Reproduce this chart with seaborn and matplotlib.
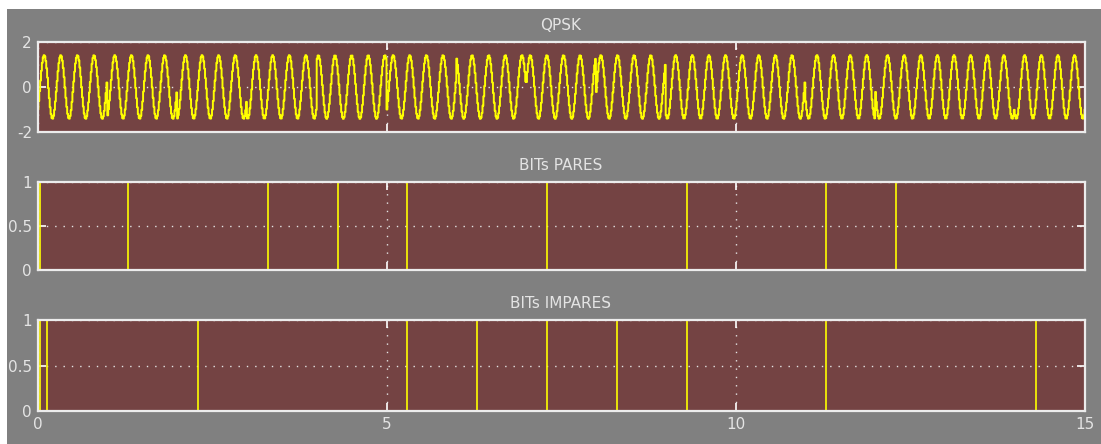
import matplotlib
matplotlib.use("Agg")
import matplotlib.pyplot as plt
from matplotlib.patches import Rectangle
import numpy as np
import pandas as pd
import seaborn as sns

# bit streams: transition times (s) and level held from each time on
pares_t = [0.0, 0.04, 1.3, 3.3, 4.3, 5.3, 7.3, 9.3, 11.3, 12.3, 15.0]
pares_v = [0, 1, 0, 1, 0, 1, 0, 1, 0, 1, 1]
impares_t = [0.0, 0.04, 0.13, 2.3, 5.3, 6.3, 7.3, 8.3, 9.3, 11.3, 14.3, 15.0]
impares_v = [0, 1, 0, 1, 0, 1, 0, 1, 0, 1, 0, 0]

# modulator settings
carrier_hz = 4.2
sample_dt = 0.0125
bit_delay = 0.3

titles = ["QPSK", "BITs PARES", "BITs IMPARES"]
x_ticks = [0, 5, 10, 15]

BG = "#808080"
FACE = "#744343"
FG = "#e4e4e4"
YEL = "#ffff00"


def level_at(times, levels, t):
    idx = np.searchsorted(times, t, side="right") - 1
    return np.asarray(levels)[np.clip(idx, 0, len(levels) - 1)]


# QPSK built from the two bit streams (bits shown are delayed by bit_delay)
t = np.arange(0, 15 + sample_dt, sample_dt)
i_sym = 2 * level_at(pares_t, pares_v, t + bit_delay) - 1
q_sym = 2 * level_at(impares_t, impares_v, t + bit_delay) - 1
qpsk = i_sym * np.sin(2 * np.pi * carrier_hz * t) + q_sym * np.cos(2 * np.pi * carrier_hz * t)
qpsk_df = pd.DataFrame({"t": t, "v": qpsk})
pares_df = pd.DataFrame({"t": pares_t, "v": pares_v})
impares_df = pd.DataFrame({"t": impares_t, "v": impares_v})

sns.set_style("dark")
plt.rcParams["font.family"] = ["DejaVu Sans"]

fig = plt.figure(figsize=(11.01, 4.44), dpi=100)
fig.patch.set_facecolor("white")
fig.add_artist(Rectangle((7 / 1101, 0), 1, 1 - 9 / 444, transform=fig.transFigure,
                         facecolor=BG, edgecolor="none", zorder=-10))

left, width = 37.5 / 1101, 1047 / 1101
boxes = [(42, 132), (182, 270), (320, 411)]
axes = [fig.add_axes([left, 1 - b / 444, width, (b - a) / 444]) for a, b in boxes]

sns.lineplot(data=qpsk_df, x="t", y="v", ax=axes[0], color=YEL, lw=1.4,
             drawstyle="steps-post", estimator=None, sort=False)
sns.lineplot(data=pares_df, x="t", y="v", ax=axes[1], color=YEL, lw=1.2,
             drawstyle="steps-post", estimator=None, sort=False)
sns.lineplot(data=impares_df, x="t", y="v", ax=axes[2], color=YEL, lw=1.2,
             drawstyle="steps-post", estimator=None, sort=False)

for k, ax in enumerate(axes):
    ax.set_facecolor(FACE)
    ax.set_xlim(0, 15)
    ax.set_xticks(x_ticks)
    if k == 0:
        ax.set_ylim(-2, 2)
        ax.set_yticks([-2, 0, 2])
        ax.set_yticklabels(["-2", "0", "2"])
    else:
        ax.set_ylim(0, 1)
        ax.set_yticks([0, 0.5, 1])
        ax.set_yticklabels(["0", "0.5", "1"])
    if k < 2:
        ax.set_xticklabels([])
    ax.set_xlabel("")
    ax.set_ylabel("")
    ax.grid(True, color=FG, linestyle=(0, (1, 5)), linewidth=1.0)
    ax.set_axisbelow(True)
    ax.tick_params(direction="in", length=6, width=1.2, color="white",
                   labelcolor=FG, labelsize=11, pad=4,
                   top=True, right=True, bottom=True, left=True)
    for sp in ax.spines.values():
        sp.set_visible(True)
        sp.set_color("#ececec")
        sp.set_linewidth(1.6)
        sp.set_zorder(5)
    ax.set_title(titles[k], color=FG, fontsize=11, pad=9)

fig.savefig("out.png", dpi=100, facecolor=fig.get_facecolor())
